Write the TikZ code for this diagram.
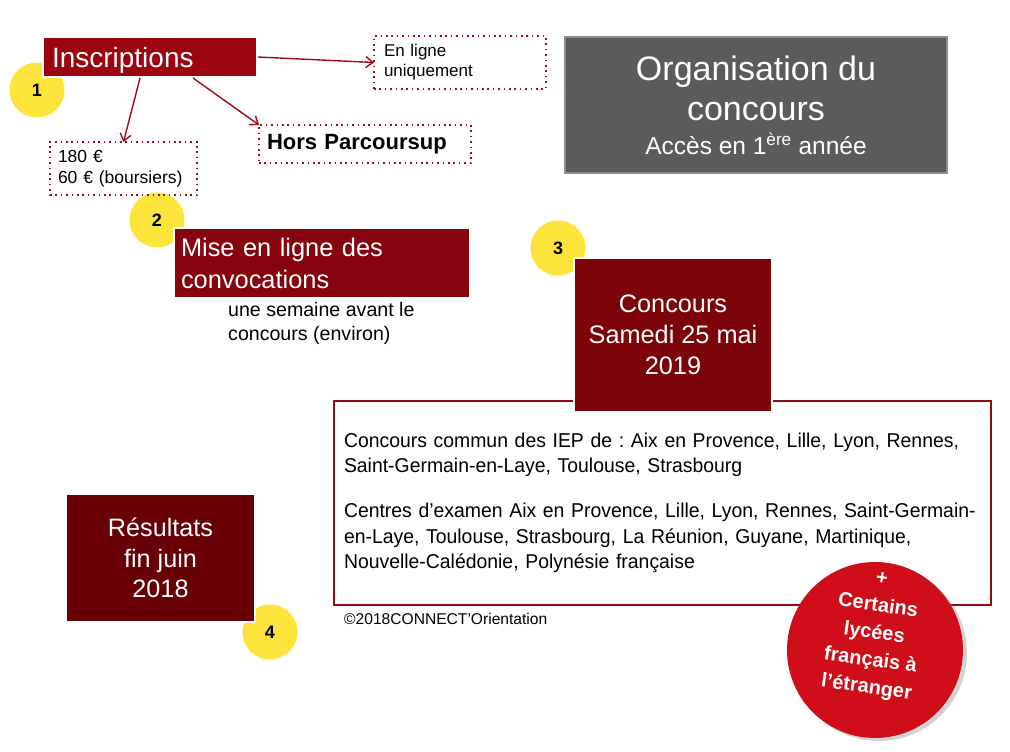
\documentclass[tikz,border=0pt]{standalone}
\usepackage{fontspec}
\setmainfont{Liberation Sans}
\newfontfamily\etroite[FakeStretch=0.97]{Liberation Sans}
\usepackage{tikz}
\usetikzlibrary{calc}
\usetikzlibrary{arrows.meta}
\usetikzlibrary{shadows}
\frenchspacing

\definecolor{jaune}{RGB}{253,228,59}
\definecolor{rougeins}{RGB}{156,4,16}
\definecolor{rougemise}{RGB}{135,4,14}
\definecolor{rougeconc}{RGB}{125,4,9}
\definecolor{rougeres}{RGB}{104,0,6}
\definecolor{rougetrait}{RGB}{160,10,20}
\definecolor{rougecadre}{RGB}{150,10,20}
\definecolor{rougevif}{RGB}{208,14,26}
\definecolor{grisfond}{RGB}{91,91,91}
\definecolor{grisbord}{RGB}{140,140,140}

\def\police#1#2{\fontsize{#1pt}{#2pt}\selectfont}

\begin{document}
\begin{tikzpicture}[x=1pt,y=-1pt]
      \tikzset{pastille/.style={circle,fill=jaune,minimum size=55pt,inner sep=0pt,font=\police{18}{18}\bfseries}}
      \tikzset{boite/.style={draw=white,line width=2pt,text=white,inner sep=0pt}}
      \tikzset{pointille/.style={draw=rougetrait,line width=1.6pt,dash pattern=on 1.6pt off 3.8pt,inner sep=0pt,outer sep=0pt,align=left}}
      \tikzset{fleche/.style={draw=rougetrait,line width=1.4pt,-{Straight Barb[length=7pt,width=11pt]}}}
      \useasboundingbox (0,0) rectangle (1010,752);

\foreach \n/\x/\y in {1/37/90,2/157/220,3/558/248,4/270/632}
		\node[pastille] (p\n) at (\x,\y) {\n};

\node[boite,fill=rougeins,minimum width=214pt,minimum height=40pt,text width=196pt,text depth=0pt,inner xsep=9pt,align=left,font=\police{28}{30}] (ins) at (150,57) {Inscriptions};
\node[pointille,minimum width=172pt,minimum height=53pt,text width=152pt,inner xsep=10pt,font=\police{17}{20}] (enligne) at (460,62.5) {En ligne\\uniquement};
\node[pointille,minimum width=212pt,minimum height=38pt,text width=196pt,inner xsep=8pt,font=\police{22}{24}\bfseries] (hors) at (365,144) {Hors Parcoursup};
\node[pointille,minimum width=147pt,minimum height=53pt,text width=131pt,inner xsep=8pt,font=\police{17.5}{21}] (tarif) at (123.5,168.5) {180 €\\60 € (boursiers)};

\node[boite,fill=rougemise,minimum width=296pt,minimum height=70pt,text width=282pt,inner xsep=7pt,align=left,font=\police{25.4}{32}] (mise) at (322,263) {Mise en ligne des\\convocations};
\node[anchor=west,align=left,inner sep=0pt,font=\police{19.6}{24}] (semaine) at (228,323) {une semaine avant le\\concours (environ)};

\node[draw=grisbord,line width=1.5pt,fill=grisfond,text=white,minimum width=382pt,minimum height=136pt,align=center,font=\police{34}{40}] (org) at (756,105)
   {Organisation du\\concours\\[-6pt]{\police{24.5}{34}Accès en 1\textsuperscript{ère} année}};

\node[draw=rougecadre,line width=1.5pt,minimum width=657pt,minimum height=204pt,text width=637pt,inner xsep=10pt,align=left,font=\etroite\police{20}{25.5}] (cadre) at (662.5,503)
   {Concours commun des IEP de : Aix en Provence, Lille, Lyon, Rennes,\\Saint-Germain-en-Laye, Toulouse, Strasbourg\\[19.5pt]Centres d’examen Aix en Provence, Lille, Lyon, Rennes, Saint-Germain-\\en-Laye, Toulouse, Strasbourg, La Réunion, Guyane, Martinique,\\Nouvelle-Calédonie, Polynésie française};
\node[boite,fill=rougeconc,minimum width=198pt,minimum height=154pt,align=center,font=\police{25.3}{31}] (concours) at (673,335) {Concours\\Samedi 25 mai\\2019};
\node[anchor=west,inner sep=0pt,font=\police{15.6}{16}] (copyright) at (344,619) {©2018CONNECT'Orientation};

\node[boite,fill=rougeres,minimum width=189pt,minimum height=128pt,align=center,font=\police{25.2}{30.5}] (res) at (160.5,558) {Résultats\\fin juin\\2018};

\node[circle,fill=rougevif,minimum size=176pt,drop shadow={shadow xshift=4pt,shadow yshift=-3pt,opacity=0.35}] (cercle) at (875,650) {};
\node[rotate=-8,text=white,align=center,font=\police{20}{27.5}\bfseries] (etranger) at ($(cercle.center)+(-1,-15)$) {+\\Certains\\lycées\\français à\\l’étranger};

% fleches depuis les inscriptions
\draw[fleche] (ins.east) -- (enligne.west);
\draw[fleche] ($(ins.south)+(-10,0)$) -- (tarif.north);
\draw[fleche] ($(ins.south)+(43,0)$) -- (hors.north west);

    \end{tikzpicture}
\end{document}
